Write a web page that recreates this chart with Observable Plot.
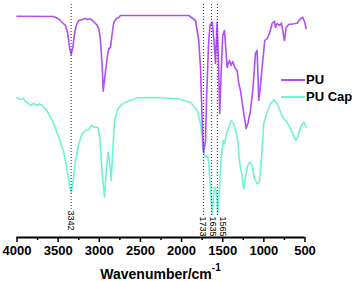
<!DOCTYPE html>
<html><head><meta charset="utf-8">
<script src="https://cdn.jsdelivr.net/npm/d3@7"></script>
<script src="https://cdn.jsdelivr.net/npm/@observablehq/plot@0.6"></script>
<style>
body{margin:0;background:#fff;font-family:"Liberation Sans",Arial,sans-serif;}
#wrap{position:relative;width:355px;height:281px;}
.legend{position:absolute;left:281px;top:71px;font-weight:bold;font-size:13px;color:#000;}
.legend div{height:17px;display:flex;align-items:center;white-space:nowrap;}
.legend span.sw{display:inline-block;width:24px;height:0;border-top:2px solid;margin-right:1px;}
#title{position:absolute;left:0;width:321px;top:268px;line-height:13px;text-align:center;font-weight:bold;font-size:14px;color:#000;}
#title sup{font-size:10px;position:relative;top:-2px;vertical-align:super;line-height:0;}
</style>
</head><body>
<div id="wrap"></div>
<script>
// PU spectrum (wavenumber, relative transmittance)
const puWavenumber = [4000,3556,3496,3451,3411,3383,3362,3342,3322,3301,3280,3249,3208,3168,3143,3107,3074,3034,3006,2985,2964,2952,2933,2904,2884,2864,2843,2824,2791,2763,2742,2400,2100,1912,1831,1791,1770,1750,1733,1709,1697,1673,1655,1628,1606,1588,1568,1552,1536,1518,1500,1479,1461,1446,1418,1397,1378,1354,1325,1305,1284,1244,1215,1191,1163,1135,1102,1082,1062,1041,1021,989,960,932,899,871,859,839,807,786,770,750,729,698,637,596,555,528,503,486];
const puValue      = [221.3,221,218.7,215,212,204,190.3,183,190,204,212,217,218,219,218,218.7,216.3,213,209,197,170,146.3,160,180,189,190,204,215,219,220,222,222,222,222,217,197,170,117,85,97,137,192,212,215.3,197,174,215.3,177,124,167,202,207,187,170,177,172,176,170,167,154,147,124,109,115,127,147,184,187,137,152,170,197,199,204,214,216.3,210,214,212,214.3,207,197,210,213,213.7,214.3,218.7,220.3,215.3,209];
// PU Cap spectrum
const capWavenumber = [4000,3957,3921,3900,3876,3836,3800,3755,3727,3694,3654,3614,3553,3492,3431,3390,3358,3341,3317,3289,3249,3208,3168,3127,3095,3067,3018,2994,2965,2937,2912,2892,2872,2855,2836,2815,2782,2742,2681,2539,2300,2053,1891,1810,1770,1737,1709,1689,1669,1648,1628,1600,1579,1560,1539,1518,1494,1478,1454,1426,1397,1365,1324,1292,1263,1244,1223,1195,1171,1142,1114,1081,1053,1029,1001,968,919,879,838,798,770,737,709,656,615,588,555,515,483];
const capValue      = [139.7,138,139,136,135.3,132,134,132,133.5,132,128.7,123.7,113.7,100.3,85.3,67,50.3,45.3,57,77,93.7,103.7,107,107.7,112,110.3,110.3,100.3,63.7,40.3,70.3,85.3,73.7,57,87,117,127,132,135.3,139.7,140,138.7,135.3,127,113.7,87,80.3,82,75.3,47,23.7,50.3,47,23.7,50.3,80.3,97,93.7,103.7,110.3,117,113.7,100.3,73.7,60.3,48.7,60.3,72,75.3,72,58.7,53.7,55.3,80.3,113.7,123.7,133.7,137.7,133.7,125.3,120.3,117,113.7,105.3,97,100.3,110.3,115.3,110.3];
// Annotated peaks and axis ticks
const peakWavenumbers = [3342, 1733, 1635, 1565];
const peakLabels = ["3342", "1733", "1635", "1565"];
const majorTicks = [4000,3500,3000,2500,2000,1500,1000,500];
const minorTicks = [3750,3250,2750,2250,1750,1250,750];

const pu = puWavenumber.map((w,i)=>({w, v: puValue[i]}));
const cap = capWavenumber.map((w,i)=>({w, v: capValue[i]}));
const peaks = peakWavenumbers.map((w,i)=>({w, label: peakLabels[i]}));

const purple = "#b04ef2";
const cyan = "#6ef3d6";
const ruleTop = 234;
// label layout: [bottom of dotted line / top of label, horizontal nudge]
const labelLayout = {"3342": [28, 0], "1733": [22, -1], "1635": [22, 1.3], "1565": [22, 5.5]};

const labelMarks = peaks.map(p => Plot.text([p], {
  x: "w", y: () => labelLayout[p.label][0] - 1, text: "label", rotate: 90,
  textAnchor: "start", lineAnchor: "middle", fontSize: 9, fill: "#000", dx: labelLayout[p.label][1]
}));

const chart = Plot.plot({
  width: 355, height: 281,
  marginLeft: 16.5, marginRight: 50.5, marginTop: 0, marginBottom: 44,
  style: {fontFamily: '"Liberation Sans", Arial, sans-serif', background: "#fff", overflow: "visible"},
  x: {domain: [4000, 500]},
  y: {domain: [0, 237], axis: null},
  marks: [
    Plot.line(cap, {x: "w", y: "v", stroke: cyan, strokeWidth: 1.6}),
    Plot.line(pu, {x: "w", y: "v", stroke: purple, strokeWidth: 1.6}),
    Plot.ruleX(peaks, {x: "w", y1: d => labelLayout[d.label][0], y2: ruleTop, stroke: "#333", strokeWidth: 1, strokeDasharray: "1,2"}),
    ...labelMarks,
    Plot.ruleY([0], {stroke: "#000", strokeWidth: 2}),
    Plot.axisX({ticks: majorTicks, tickSize: 5, tickPadding: 3, strokeWidth: 1.5, fontSize: 13, fontWeight: "bold", label: null, tickFormat: d => String(d), fill: "#000"}),
    Plot.axisX({ticks: minorTicks, tickSize: 3, strokeWidth: 1.5, text: null, label: null})
  ]
});
const wrap = document.getElementById("wrap");
wrap.appendChild(chart);
const legend = document.createElement("div");
legend.className = "legend";
legend.innerHTML = `<div><span class="sw" style="border-color:${purple}"></span>PU</div><div><span class="sw" style="border-color:${cyan}"></span>PU Cap</div>`;
wrap.appendChild(legend);
const title = document.createElement("div");
title.id = "title";
title.innerHTML = "Wavenumber/cm<sup>-1</sup>";
wrap.appendChild(title);
</script>
</body></html>
